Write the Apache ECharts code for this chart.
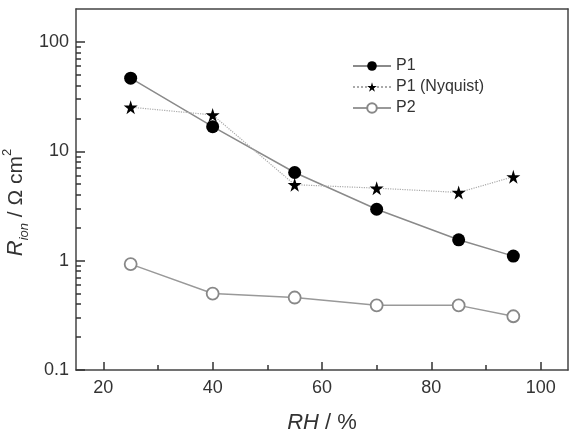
<!DOCTYPE html>
<html>
<head>
<meta charset="utf-8">
<script src="https://cdn.jsdelivr.net/npm/echarts@6/dist/echarts.min.js"></script>
<style>
  html, body { margin: 0; padding: 0; background: #fff; }
  #main { width: 575px; height: 432px; }
</style>
</head>
<body>
<div id="main"></div>
<script>
// relative humidity (%) for each measurement
var rh = [25, 40, 55, 70, 85, 95];
// ionic resistance, Ohm cm2
var p1 = [46.6, 16.8, 6.4, 2.95, 1.55, 1.1];
var p1Nyquist = [25.3, 21.5, 4.95, 4.6, 4.2, 5.85];
var p2 = [0.93, 0.5, 0.46, 0.39, 0.39, 0.31];

// tick positions
var xMajor = [20, 40, 60, 80, 100];
var xMinor = [30, 50, 70, 90];
var yMajor = [0.1, 1, 10, 100];
var yMinor = [0.2, 0.3, 0.4, 0.5, 0.6, 0.7, 0.8, 0.9,
              2, 3, 4, 5, 6, 7, 8, 9,
              20, 30, 40, 50, 60, 70, 80, 90];
var yMin = 0.1, yMax = 200;

var starPath = 'path://M50,0 L61,35 L98,35 L68,57 L79,91 L50,70 L21,91 L32,57 L2,35 L39,35 Z';
var font = 'Liberation Sans, Arial, sans-serif';
var frame = { color: '#444', width: 1.5 };
var tickStyle = { color: '#333', width: 1.5 };

function pairs(ys) {
  return rh.map(function (x, i) { return [x, ys[i]]; });
}

var chartDom = document.getElementById('main');
var myChart = echarts.init(chartDom);
var option = {
  animation: false,
  textStyle: { fontFamily: font },
  grid: {
    left: 76, right: 7, top: 9, bottom: 62,
    outerBoundsMode: 'none'
  },
  legend: {
    orient: 'vertical',
    left: 347, top: 53,
    itemWidth: 38, itemHeight: 12, itemGap: 5,
    textStyle: { fontSize: 16, color: '#333', fontFamily: font },
    data: ['P1', 'P1 (Nyquist)', 'P2']
  },
  xAxis: [
    {
      type: 'value', min: 15, max: 105, z: 5,
      name: '{i|RH} / %',
      nameLocation: 'middle', nameGap: 42, nameMoveOverlap: false,
      nameTextStyle: {
        fontSize: 22, color: '#333',
        rich: { i: { fontSize: 22, fontStyle: 'italic', color: '#333' } }
      },
      axisLine: { show: true, onZero: false, lineStyle: frame },
      axisTick: { show: true, inside: true, length: 8, customValues: xMajor, lineStyle: tickStyle },
      axisLabel: { customValues: xMajor, fontSize: 18, color: '#333', margin: 9 },
      splitLine: { show: false }
    },
    {
      type: 'value', min: 15, max: 105, position: 'bottom', z: 5,
      axisLine: { show: false, onZero: false },
      axisTick: { show: true, inside: true, length: 5, customValues: xMinor, lineStyle: tickStyle },
      axisLabel: { show: false },
      splitLine: { show: false }
    },
    {
      // top frame line
      type: 'value', min: 15, max: 105, position: 'top', z: 5,
      axisLine: { show: true, onZero: false, lineStyle: frame },
      axisTick: { show: false },
      axisLabel: { show: false },
      splitLine: { show: false }
    }
  ],
  yAxis: [
    {
      type: 'log', min: yMin, max: yMax, z: 5,
      name: '{i|R}{sub|ion}{n| / Ω cm}{sup|2}',
      nameLocation: 'middle', nameRotate: 90, nameGap: 45, nameMoveOverlap: false,
      nameTextStyle: {
        fontSize: 21, color: '#333', padding: [0, 26, 0, 0],
        rich: {
          i: { fontSize: 22, fontStyle: 'italic', color: '#333', lineHeight: 30, verticalAlign: 'middle' },
          sub: { fontSize: 13, fontStyle: 'italic', color: '#333', verticalAlign: 'bottom', lineHeight: 30 },
          n: { fontSize: 21, color: '#333', lineHeight: 30, verticalAlign: 'middle' },
          sup: { fontSize: 13, color: '#333', verticalAlign: 'top', lineHeight: 30 }
        }
      },
      axisLine: { show: true, onZero: false, lineStyle: frame },
      axisTick: { show: true, inside: true, length: 9, customValues: yMajor, lineStyle: tickStyle },
      axisLabel: { customValues: yMajor, fontSize: 18, color: '#333', margin: 7 },
      splitLine: { show: false }
    },
    {
      // minor log ticks
      type: 'log', min: yMin, max: yMax, position: 'left', z: 5,
      axisLine: { show: false, onZero: false },
      axisTick: { show: true, inside: true, length: 5, customValues: yMinor, lineStyle: tickStyle },
      axisLabel: { show: false },
      splitLine: { show: false }
    },
    {
      // right frame line
      type: 'log', min: yMin, max: yMax, position: 'right', z: 5,
      axisLine: { show: true, onZero: false, lineStyle: frame },
      axisTick: { show: false },
      axisLabel: { show: false },
      splitLine: { show: false }
    }
  ],
  series: [
    {
      name: 'P1',
      type: 'line',
      data: pairs(p1),
      symbol: 'circle', symbolSize: 13,
      itemStyle: { color: '#000' },
      lineStyle: { color: '#8a8a8a', width: 1.5 },
      z: 3
    },
    {
      name: 'P1 (Nyquist)',
      type: 'line',
      data: pairs(p1Nyquist),
      symbol: starPath, symbolSize: 14,
      itemStyle: { color: '#000' },
      lineStyle: { color: '#aaa', width: 1.2, type: 'dotted' },
      z: 4
    },
    {
      name: 'P2',
      type: 'line',
      data: pairs(p2),
      symbol: 'circle', symbolSize: 12,
      itemStyle: { color: '#fff', borderColor: '#888', borderWidth: 1.8 },
      lineStyle: { color: '#999', width: 1.5 },
      z: 3
    }
  ]
};

option && myChart.setOption(option);

window.onresize = function () {
  myChart.resize();
};
</script>
</body>
</html>
